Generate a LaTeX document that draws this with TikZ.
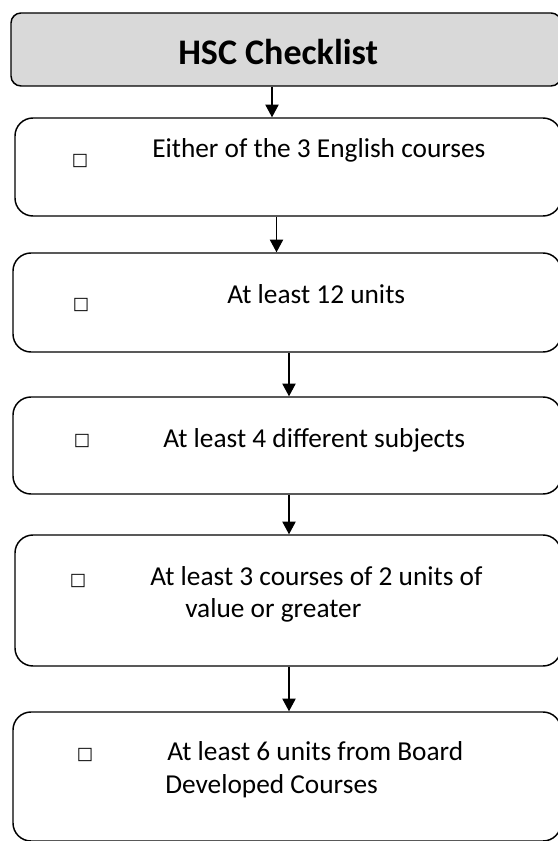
\documentclass[tikz,border=0pt]{standalone}
\usepackage{fontspec}
\setmainfont{Carlito}
\newfontfamily\symfont{DejaVu Sans}
\usetikzlibrary{arrows.meta}
\definecolor{hdrgray}{HTML}{D9D9D9}

\tikzset{
  box/.style={draw, rounded corners=13.5pt, line width=1.1pt, inner sep=0pt},
  hdrbox/.style={box, rounded corners=7.5pt, fill=hdrgray},
  txt/.style={anchor=base west, inner sep=0pt, font=\fontsize{20.5}{24}\selectfont},
  tickbox/.style={inner sep=0pt, font=\symfont\fontsize{13}{15}\selectfont},
  flow/.style={-{Triangle[width=10pt,length=9.5pt]}, line width=0.8pt}
}

\begin{document}
\begin{tikzpicture}[x=0.75pt, y=-0.75pt]
  \useasboundingbox (0,0) rectangle (557,841);

  % boxes
  \node[hdrbox, minimum width=412.5pt, minimum height=54.75pt] (hdr) at (286,49.5) {};
  \node[box, minimum width=409.5pt, minimum height=73.5pt] (b1) at (288,167) {};
  \node[box, minimum width=411pt, minimum height=74.25pt] (b2) at (287,302.5) {};
  \node[box, minimum width=411pt, minimum height=72.75pt] (b3) at (287,445.5) {};
  \node[box, minimum width=409.5pt, minimum height=98.25pt] (b4) at (288,600.5) {};
  \node[box, minimum width=411pt, minimum height=96.75pt] (b5) at (287,776.5) {};

  % texts
  \node[txt, font=\bfseries\fontsize{27}{32}\selectfont] (title) at (178,65) {HSC Checklist};
  \node[txt] (t1) at (152,158) {Either of the 3 English courses};
  \node[txt] (t2) at (227,303) {At least 12 units};
  \node[txt] (t3) at (163,447) {At least 4 different subjects};
  \node[txt] (t4a) at (150,585) {At least 3 courses of 2 units of};
  \node[txt] (t4b) at (185,617) {value or greater};
  \node[txt] (t5a) at (167,760) {At least 6 units from Board};
  \node[txt] (t5b) at (165,793) {Developed Courses};

  % check boxes
  \node[tickbox] (k1) at (80,161) {□};
  \node[tickbox] (k2) at (81,305) {□};
  \node[tickbox] (k3) at (82,441) {□};
  \node[tickbox] (k4) at (78,581) {□};
  \node[tickbox] (k5) at (85,755) {□};

  % arrows
  \coordinate (c1) at (272,0);
  \coordinate (c2) at (276.5,0);
  \coordinate (c3) at (289,0);
  \draw[flow] (hdr.south -| c1) -- (b1.north -| c1);
  \draw[flow] (b1.south -| c2) -- (b2.north -| c2);
  \draw[flow] (b2.south -| c3) -- (b3.north -| c3);
  \draw[flow] (b3.south -| c3) -- (b4.north -| c3);
  \draw[flow] (b4.south -| c3) -- (b5.north -| c3);
\end{tikzpicture}
\end{document}
